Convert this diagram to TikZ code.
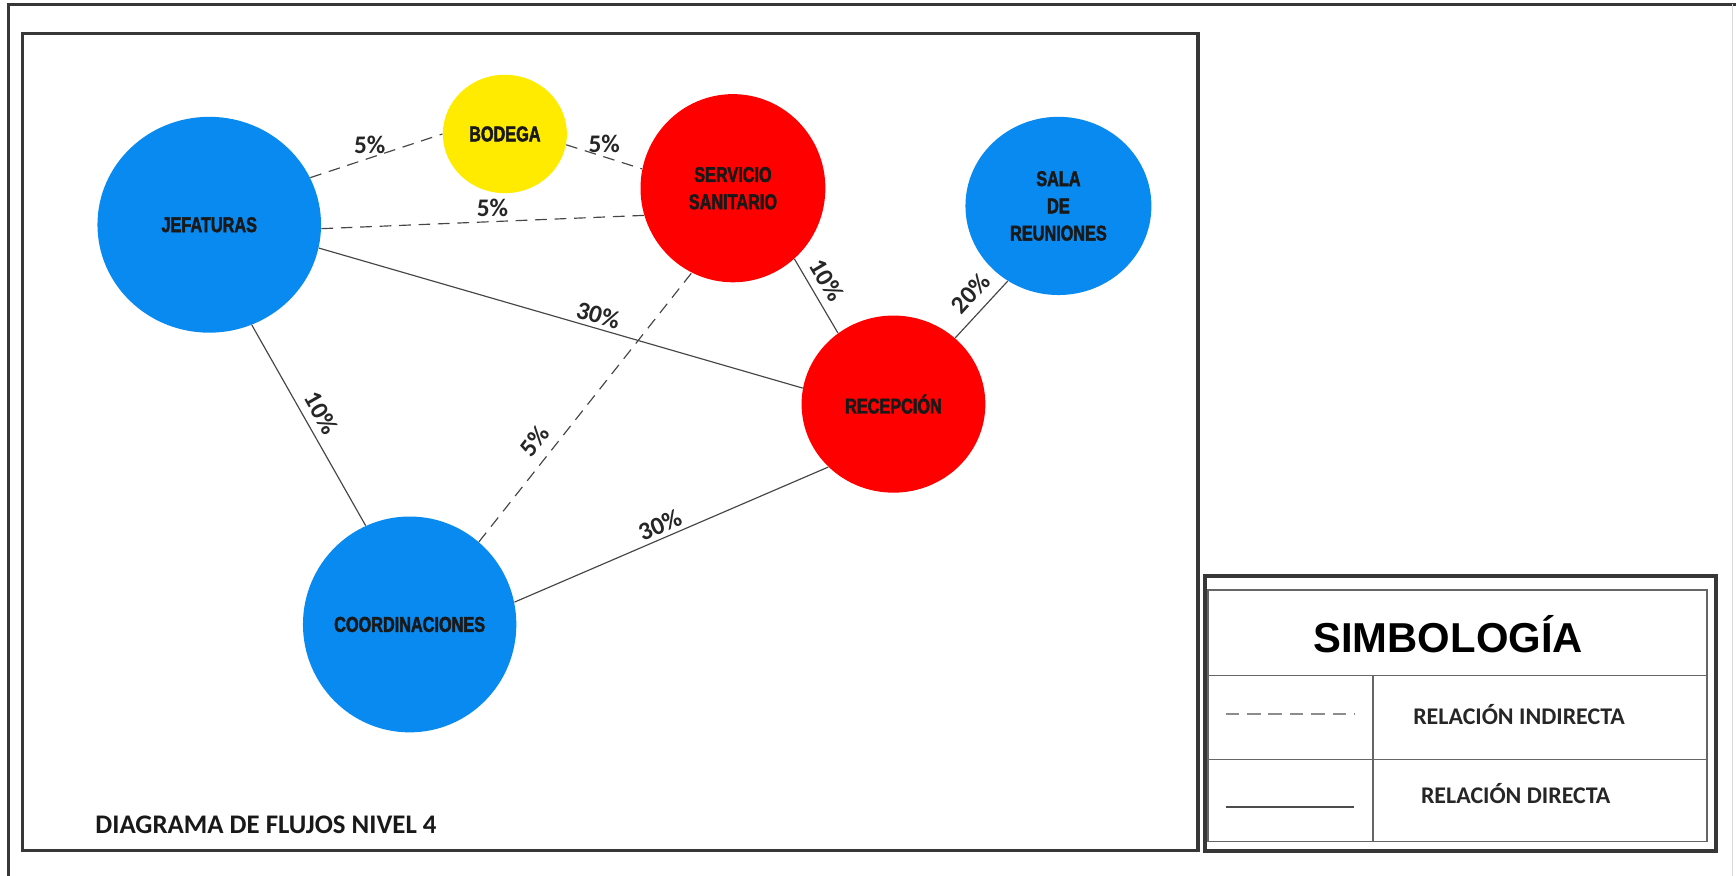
\documentclass[tikz,border=0pt]{standalone}
\usepackage{fontspec}
\setmainfont{Carlito}
\newfontfamily\roomfont[FakeStretch=0.76, FakeBold=2.2]{Liberation Sans Bold}
\newfontfamily\headfont{Liberation Sans}
\usetikzlibrary{shapes.geometric}

\definecolor{roomblue}{RGB}{8,138,240}
\definecolor{roomred}{RGB}{255,0,0}
\definecolor{roomyellow}{RGB}{255,235,0}
\definecolor{framegray}{RGB}{55,55,55}
\definecolor{linkgray}{RGB}{70,70,70}

\begin{document}
\begin{tikzpicture}[
  x=0.02cm, y=-0.02cm,
  room/.style={ellipse, inner sep=0pt, align=center, text=black!90,
    font=\roomfont\fontsize{11}{14}\selectfont},
  blueroom/.style={room, fill=roomblue},
  redroom/.style={room, fill=roomred},
  yellowroom/.style={room, fill=roomyellow},
  direct/.style={draw=linkgray, line width=0.6pt},
  indirect/.style={direct, dash pattern=on 6pt off 4pt},
  pct/.style={font=\bfseries\fontsize{13}{13}\selectfont, text=black!85, inner sep=2pt},
  legtext/.style={font=\bfseries\fontsize{12.3}{12.3}\selectfont, text=black!85},
]
  \useasboundingbox (0,0) rectangle (1568,791);

  % frames
  \draw[framegray, line width=1.4pt] (8,791) -- (8,4) -- (1568,4);
  \draw[black!15, line width=0.8pt] (1565,4) -- (1565,791);
  \draw[framegray, line width=1.6pt] (20,30) rectangle (1082,768);

  % rooms
  \node[blueroom, minimum width=4.04cm, minimum height=3.9cm] (jef) at (189,203) {JEFATURAS};
  \node[yellowroom, minimum width=2.24cm, minimum height=2.14cm] (bod) at (456,121) {BODEGA};
  \node[redroom, minimum width=3.34cm, minimum height=3.4cm] (ss) at (662,170) {SERVICIO\\SANITARIO};
  \node[blueroom, minimum width=3.36cm, minimum height=3.22cm] (sala) at (956,186) {SALA\\DE\\REUNIONES};
  \node[redroom, minimum width=3.32cm, minimum height=3.2cm] (rec) at (807,365) {RECEPCIÓN};
  \node[blueroom, minimum width=3.68cm, minimum height=3.9cm] (coord) at (370,564) {COORDINACIONES};

  % links
  \draw[indirect] (jef.25) -- node[pct, above, pos=0.45] {5\%} (bod.180);
  \draw[indirect] (bod.-10) -- node[pct, above, pos=0.5] {5\%} (ss.168);
  \draw[indirect] (jef.-2) -- node[pct, above, pos=0.53] {5\%} (ss.197);
  \draw[direct] (jef.-12) -- node[pct, above, sloped, pos=0.57] {30\%} (rec.170);
  \draw[direct] (ss.-49) -- node[pct, above=2pt, sloped, pos=0.4] {10\%} (rec.128);
  \draw[direct] (rec.47) -- node[pct, above=3pt, sloped, pos=0.56] {20\%} (sala.236);
  \draw[direct] (jef.-67) -- node[pct, above=2pt, sloped, pos=0.48] {10\%} (coord.114);
  \draw[indirect] (coord.50) -- node[pct, above=3pt, sloped, pos=0.33] {5\%} (ss.244);
  \draw[direct] (coord.12) -- node[pct, above, sloped, pos=0.48] {30\%} (rec.-136);

  \node[font=\bfseries\fontsize{13.8}{13.8}\selectfont, text=black!90, anchor=west] (title) at (80,745) {DIAGRAMA DE FLUJOS NIVEL 4};

  % legend
  \draw[framegray, line width=2pt] (1088,520) rectangle (1550,769);
  \draw[black!60, line width=0.8pt] (1091,533) rectangle (1542,760);
  \draw[black!60, line width=0.8pt] (1091,610) -- (1542,610);
  \draw[black!60, line width=0.8pt] (1091,686) -- (1542,686);
  \draw[black!60, line width=0.8pt] (1240,610) -- (1240,760);
  \node[font=\headfont\bfseries\fontsize{21.5}{21.5}\selectfont] (simb) at (1308,573) {SIMBOLOGÍA};
  \draw[black!45, line width=1.2pt, dash pattern=on 7pt off 4pt] (1107,645) -- (1223,645);
  \draw[black!70, line width=0.8pt] (1107,729) -- (1223,729);
  \node[legtext] (indir) at (1372,645) {RELACIÓN INDIRECTA};
  \node[legtext] (dir) at (1369,717) {RELACIÓN DIRECTA};
\end{tikzpicture}
\end{document}
